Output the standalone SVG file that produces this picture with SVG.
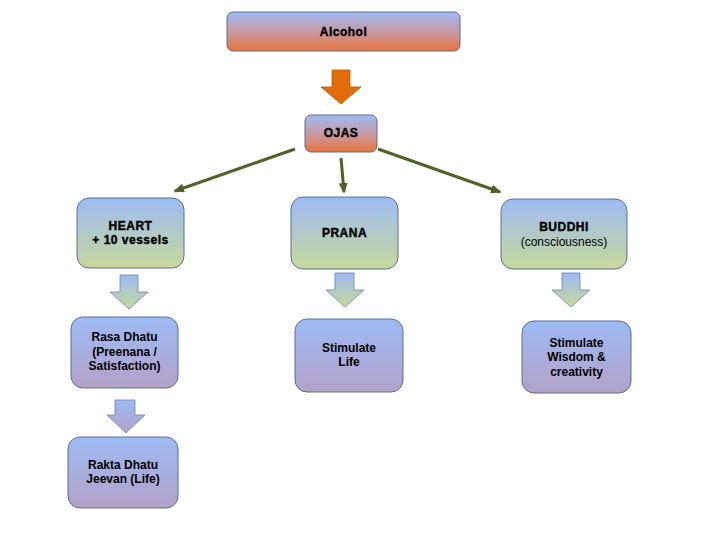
<svg xmlns="http://www.w3.org/2000/svg" width="720" height="540" viewBox="0 0 720 540">
<defs>
<linearGradient id="gOrange" x1="0" y1="0" x2="0" y2="1"><stop offset="0" stop-color="#9dbbf5"/><stop offset="0.5" stop-color="#c89aa6"/><stop offset="1" stop-color="#e8733a"/></linearGradient>
<linearGradient id="gGreen" x1="0" y1="0" x2="0" y2="1"><stop offset="0" stop-color="#9dbbf5"/><stop offset="1" stop-color="#c7d99a"/></linearGradient>
<linearGradient id="gPurple" x1="0" y1="0" x2="0" y2="1"><stop offset="0" stop-color="#9dbbf5"/><stop offset="1" stop-color="#b3a2c8"/></linearGradient>
<marker id="ah" markerWidth="3.6" markerHeight="3" refX="3" refY="1.5" orient="auto" markerUnits="strokeWidth"><path d="M0,0 L3.6,1.5 L0,3 Z" fill="#4f6228"/></marker>
<style>
.box{stroke:#5b6e8c;stroke-width:1}
.t{font-family:"Liberation Sans",Arial,sans-serif;font-size:12px;text-anchor:middle;fill:#000}
.b{font-weight:bold}
.h{font-weight:900;letter-spacing:0.5px;stroke:#000;stroke-width:0.4}
.con{stroke:#4f6228;stroke-width:3;fill:none;marker-end:url(#ah)}
.blk{stroke:#6f84a6;stroke-width:0.8}
</style>
</defs>

<g id="alcohol"><rect class="box" x="227" y="12" width="233" height="39" rx="6" fill="url(#gOrange)"/><text class="t h" x="343.5" y="36">Alcohol</text></g>
<g id="arrow-alcohol-ojas"><path d="M332,70 H350 V87 H361 L341,104 L321,87 H332 Z" fill="#e36c0a" stroke="#b85a10" stroke-width="0.8"/></g>
<g id="ojas"><rect class="box" x="305" y="115" width="72" height="37" rx="6" fill="url(#gOrange)"/><text class="t h" x="341" y="137">OJAS</text></g>

<g id="heart"><rect class="box" x="77" y="198" width="107" height="70" rx="12" fill="url(#gGreen)"/><text class="t h" x="130.5" y="230">HEART</text><text class="t h" x="130.5" y="244">+ 10 vessels</text></g>
<g id="prana"><rect class="box" x="291" y="197" width="107" height="72" rx="12" fill="url(#gGreen)"/><text class="t h" x="344.5" y="237">PRANA</text></g>
<g id="buddhi"><rect class="box" x="501" y="199" width="126" height="70" rx="12" fill="url(#gGreen)"/><text class="t h" x="564" y="231">BUDDHI</text><text class="t" x="564" y="246">(consciousness)</text></g>

<g id="arrow-heart-rasa"><path class="blk" d="M120,275 H138 V292 H148 L129,309 L110,292 H120 Z" fill="url(#gGreen)"/></g>
<g id="arrow-prana-life"><path class="blk" d="M335,273 H354 V290 H364 L345,307 L326,290 H335 Z" fill="url(#gGreen)"/></g>
<g id="arrow-buddhi-wisdom"><path class="blk" d="M562,273 H580 V290 H590 L571,307 L552,290 H562 Z" fill="url(#gGreen)"/></g>

<g id="rasa"><rect class="box" x="71" y="317" width="107" height="71" rx="12" fill="url(#gPurple)"/><text class="t b" x="124.5" y="341">Rasa Dhatu</text><text class="t b" x="124.5" y="356">(Preenana /</text><text class="t b" x="124.5" y="370">Satisfaction)</text></g>
<g id="life"><rect class="box" x="295" y="319" width="108" height="73" rx="12" fill="url(#gPurple)"/><text class="t b" x="349" y="352">Stimulate</text><text class="t b" x="349" y="366">Life</text></g>
<g id="wisdom"><rect class="box" x="522" y="321" width="109" height="72" rx="12" fill="url(#gPurple)"/><text class="t b" x="576.5" y="347">Stimulate</text><text class="t b" x="576.5" y="361">Wisdom &amp;</text><text class="t b" x="576.5" y="376">creativity</text></g>

<g id="arrow-rasa-rakta"><path class="blk" d="M115,400 H135 V415 H145 L126,433 L107,415 H115 Z" fill="url(#gPurple)"/></g>
<g id="rakta"><rect class="box" x="68" y="437" width="110" height="71" rx="12" fill="url(#gPurple)"/><text class="t b" x="123" y="469">Rakta Dhatu</text><text class="t b" x="123" y="483">Jeevan (Life)</text></g>

<g id="connectors">
<line class="con" x1="295" y1="149" x2="175" y2="191"/>
<line class="con" x1="341" y1="158" x2="344" y2="192"/>
<line class="con" x1="378" y1="149" x2="500" y2="192"/>
</g>
</svg>
